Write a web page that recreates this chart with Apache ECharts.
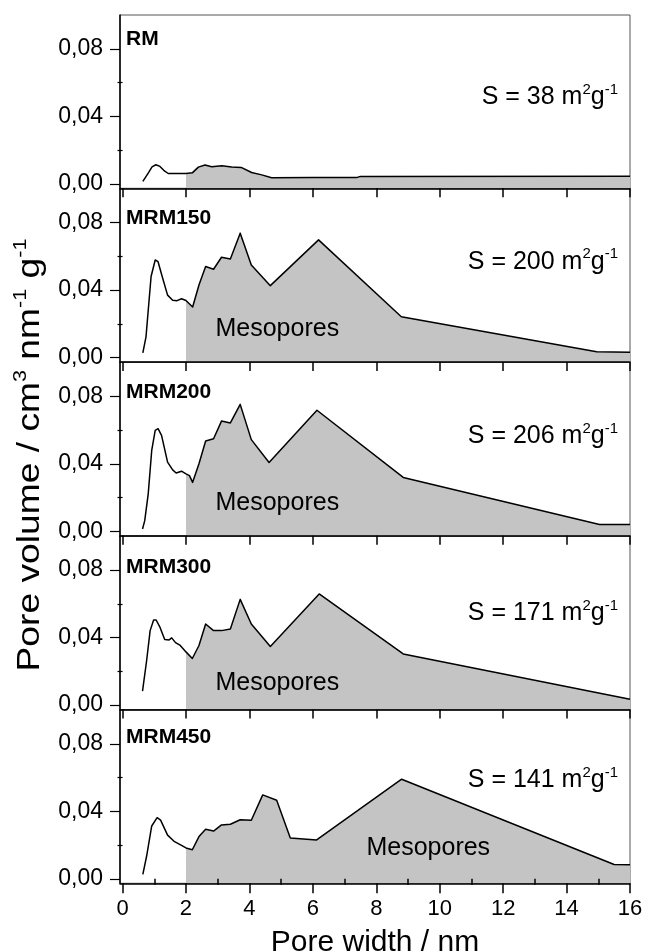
<!DOCTYPE html>
<html><head><meta charset="utf-8">
<script src="https://cdn.jsdelivr.net/npm/echarts@6/dist/echarts.min.js"></script>
<style>html,body{margin:0;padding:0;background:#fff}#c{width:646px;height:952px}</style>
</head><body><div id="c"></div>
<script>
// ---------- data ----------
const sampleNames = ['RM', 'MRM150', 'MRM200', 'MRM300', 'MRM450'];
const surfaceAreas = [38, 200, 206, 171, 141];

const rmX = [0.64, 0.81, 0.93, 1.05, 1.18, 1.30, 1.44, 1.76, 2.0, 2.2, 2.39, 2.6, 2.81, 3.13, 3.44, 3.74, 4.07, 4.39, 4.7, 6.0, 7.4, 7.5, 16];
const rmY = [0.0014, 0.0063, 0.0100, 0.0113, 0.0103, 0.0080, 0.0061, 0.0061, 0.0061, 0.0065, 0.0099, 0.0111, 0.0101, 0.0107, 0.0099, 0.0097, 0.0067, 0.0053, 0.0036, 0.0037, 0.0038, 0.0044, 0.0045];

const m150X = [0.64, 0.74, 0.90, 1.03, 1.12, 1.25, 1.42, 1.58, 1.72, 1.86, 2.0, 2.21, 2.41, 2.62, 2.87, 3.12, 3.40, 3.71, 4.06, 4.66, 6.18, 8.79, 14.95, 16];
const m150Y = [0.0028, 0.0123, 0.048, 0.0578, 0.0568, 0.048, 0.037, 0.034, 0.0337, 0.0348, 0.0338, 0.030, 0.043, 0.0539, 0.0523, 0.0594, 0.0584, 0.0737, 0.0548, 0.0426, 0.0697, 0.0242, 0.0034, 0.0032];

const m200X = [0.63, 0.70, 0.81, 0.92, 1.03, 1.12, 1.23, 1.42, 1.58, 1.69, 1.86, 2.0, 2.11, 2.21, 2.41, 2.62, 2.87, 3.12, 3.40, 3.71, 4.06, 4.62, 6.13, 8.85, 15.04, 16];
const m200Y = [0.0014, 0.0063, 0.0222, 0.0479, 0.0598, 0.0608, 0.0568, 0.041, 0.0364, 0.0345, 0.0356, 0.034, 0.033, 0.029, 0.040, 0.0535, 0.0548, 0.0653, 0.0642, 0.0752, 0.0543, 0.0408, 0.0717, 0.0319, 0.004, 0.004];

const m300X = [0.63, 0.76, 0.87, 0.98, 1.06, 1.17, 1.33, 1.47, 1.55, 1.67, 1.82, 2.0, 2.20, 2.41, 2.62, 2.87, 3.12, 3.40, 3.71, 4.06, 4.66, 6.20, 8.85, 16];
const m300Y = [0.0083, 0.0264, 0.0441, 0.0504, 0.0504, 0.0465, 0.0388, 0.0386, 0.0398, 0.037, 0.0353, 0.0315, 0.0276, 0.0353, 0.048, 0.0441, 0.0441, 0.0451, 0.0626, 0.048, 0.0347, 0.0658, 0.0303, 0.0035];

const m450X = [0.64, 0.76, 0.92, 1.09, 1.20, 1.42, 1.64, 1.86, 2.0, 2.20, 2.41, 2.62, 2.87, 3.12, 3.40, 3.71, 4.06, 4.42, 4.86, 5.29, 6.12, 8.80, 15.5, 16];
const m450Y = [0.0026, 0.0135, 0.0313, 0.0362, 0.0348, 0.0259, 0.022, 0.0198, 0.0183, 0.0172, 0.025, 0.0293, 0.0283, 0.0319, 0.0323, 0.035, 0.0347, 0.0497, 0.0465, 0.0242, 0.023, 0.059, 0.0085, 0.0083];

const xTickValues = [0, 2, 4, 6, 8, 10, 12, 14, 16];
const xMinorTickValues = [1, 3, 5, 7, 9, 11, 13, 15];
const yTickValues = [0, 0.04, 0.08];
const yMinorTickValues = [0.02, 0.06];
const mesoStart = 2;   // nm, start of mesopore range (shaded)
const mesoLabel = 'Mesopores';

// ---------- layout / style ----------
const FONT = '"Liberation Sans", Arial, Helvetica, sans-serif';
const GRID_LEFT = 120, GRID_W = 510, TOP0 = 15, STEP = 173.75, GRID_H = 173.3;
const X_MIN = -0.08, X_MAX = 16, Y_MIN = -0.00266, Y_MAX = 0.1;
const FILL = '#c4c4c4';

const xs = [rmX, m150X, m200X, m300X, m450X];
const ys = [rmY, m150Y, m200Y, m300Y, m450Y];
const N = 5;

const grids = [], xAxes = [], yAxes = [], series = [];
for (let i = 0; i < N; i++) {
  grids.push({ left: GRID_LEFT, width: GRID_W, top: TOP0 + i * STEP, height: GRID_H,
    outerBoundsMode: 'none', containLabel: false,
    show: true, borderColor: '#555', borderWidth: 1, backgroundColor: 'transparent' });
  const last = i === N - 1;
  xAxes.push({
    type: 'value', gridIndex: i, min: X_MIN, max: X_MAX, position: 'bottom', z: 10,
    axisLine: { show: true, onZero: false, lineStyle: { color: '#000', width: 1.5 } },
    axisTick: { show: true, inside: false, length: last ? 10 : 9, customValues: xTickValues, lineStyle: { color: '#000', width: 1.5 } },
    axisLabel: { show: last, customValues: xTickValues, margin: 15, fontSize: 22, color: '#000', fontFamily: FONT,
      formatter: v => String(v) },
    splitLine: { show: false },
    name: last ? 'Pore width / nm' : '', nameLocation: 'middle', nameGap: 44,
    nameTextStyle: { fontSize: 30, color: '#000', fontFamily: FONT }
  });
  yAxes.push({
    type: 'value', gridIndex: i, min: Y_MIN, max: Y_MAX, position: 'left', z: 10,
    axisLine: { show: true, onZero: false, lineStyle: { color: '#000', width: 1.5 } },
    axisTick: { show: true, inside: false, length: 10, customValues: yTickValues, lineStyle: { color: '#000', width: 1.2 } },
    axisLabel: { show: true, customValues: yTickValues, margin: 17, fontSize: 23, color: '#000', fontFamily: FONT,
      formatter: v => v.toFixed(2).replace('.', ',') },
    splitLine: { show: false }
  });
  const data = xs[i].map((x, k) => [x, ys[i][k]]);
  const meso = data.filter(d => d[0] >= mesoStart);
  series.push({
    type: 'line', xAxisIndex: i, yAxisIndex: i, data: meso, symbol: 'none', silent: true, z: 1,
    lineStyle: { width: 0, opacity: 0 }, areaStyle: { color: FILL, opacity: 1, origin: 'start' }
  });
  series.push({
    type: 'line', xAxisIndex: i, yAxisIndex: i, data: data, symbol: 'none', silent: true, z: 3,
    lineStyle: { color: '#000', width: 1.5, join: 'round' }
  });
}
// minor ticks
for (let i = 0; i < N; i++) {
  yAxes.push({
    type: 'value', gridIndex: i, min: Y_MIN, max: Y_MAX, position: 'left', offset: 0, z: 10,
    axisLine: { show: false },
    axisTick: { show: true, inside: false, length: 5, customValues: yMinorTickValues, lineStyle: { color: '#000', width: 1.2 } },
    axisLabel: { show: false }, splitLine: { show: false }
  });
}
xAxes.push({
  type: 'value', gridIndex: N - 1, min: X_MIN, max: X_MAX, position: 'bottom', offset: 0, z: 10,
  axisLine: { show: false },
  axisTick: { show: true, inside: false, length: 6, customValues: xMinorTickValues, lineStyle: { color: '#000', width: 1.5 } },
  axisLabel: { show: false }, splitLine: { show: false }
});

const chart = echarts.init(document.getElementById('c'), null, { renderer: 'canvas' });
chart.setOption({
  animation: false, backgroundColor: '#fff',
  grid: grids, xAxis: xAxes, yAxis: yAxes, series: series
});

// ---------- annotations ----------
const labelBaseOffsets = [32, 37, 37, 38, 35];       // px below panel top (baseline)
const sBaseOffsets = [89, 80, 81, 84, 77];           // px below panel top (baseline)
const mesoAnchorX = [null, 2.93, 2.93, 2.93, 7.69];   // nm, left edge of label
const mesoAnchorY = [null, 0.0117, 0.0113, 0.0077, 0.0128]; // baseline value
const gfx = [];
for (let i = 0; i < N; i++) {
  const top = TOP0 + i * STEP;
  gfx.push({ type: 'text', z: 20, style: { x: GRID_LEFT + 6, y: top + labelBaseOffsets[i] - 7.5, text: sampleNames[i],
    font: 'bold 21px ' + FONT, fill: '#000', textAlign: 'left', textVerticalAlign: 'middle' } });
  gfx.push({ type: 'text', z: 20, style: { x: GRID_LEFT + GRID_W - 12, y: top + sBaseOffsets[i] - 7,
    text: '{a|S = ' + surfaceAreas[i] + ' m}{s|2}{a|g}{s|-1}',
    rich: { a: { fontSize: 25, fontFamily: FONT, fill: '#000', lineHeight: 30 },
            s: { fontSize: 15, fontFamily: FONT, fill: '#000', lineHeight: 30, verticalAlign: 'top' } },
    textAlign: 'right', textVerticalAlign: 'middle' } });
  if (mesoAnchorX[i] !== null) {
    const p = chart.convertToPixel({ gridIndex: i }, [mesoAnchorX[i], mesoAnchorY[i]]);
    gfx.push({ type: 'text', z: 20, style: { x: p[0], y: p[1] - 9, text: mesoLabel,
      font: '25px ' + FONT, fill: '#000', textAlign: 'left', textVerticalAlign: 'middle' } });
  }
}
gfx.push({ type: 'text', z: 20, x: 30, y: 455, rotation: Math.PI / 2, scaleX: 1.2, scaleY: 1,
  style: { x: 0, y: 0, text: '{a|Pore volume / cm}{s|3}{a| nm}{s|-1}{a| g}{s|-1}',
    rich: { a: { fontSize: 31, fontFamily: FONT, fill: '#000', lineHeight: 36 },
            s: { fontSize: 18, fontFamily: FONT, fill: '#000', lineHeight: 36, verticalAlign: 'top' } },
    textAlign: 'center', textVerticalAlign: 'middle' } });
chart.setOption({ graphic: { elements: gfx } });
</script></body></html>
